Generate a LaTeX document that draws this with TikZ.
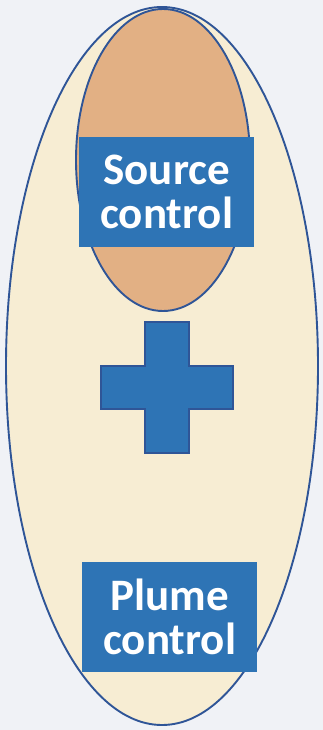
\documentclass[tikz,border=0pt]{standalone}
\usepackage{fontspec}
\setmainfont{Carlito}
\usetikzlibrary{shapes.geometric}
\definecolor{bgc}{HTML}{F0F2F6}
\definecolor{cream}{HTML}{F7EDD3}
\definecolor{orng}{HTML}{E2B084}
\definecolor{boxblue}{HTML}{2E74B5}
\definecolor{edge}{HTML}{2F5597}
\tikzset{
  outline/.style={draw=edge, line width=1.9pt},
  labelbox/.style={fill=boxblue, text=white, font=\bfseries\fontsize{45}{44}\selectfont, align=center, inner sep=0pt, anchor=north west},
}
\begin{document}
\begin{tikzpicture}[x=1pt,y=-1pt]
\fill[bgc] (0,0) rectangle (323,730);
\useasboundingbox (0,0) rectangle (323,730);
\draw[outline, fill=cream] (162,366) ellipse [x radius=156, y radius=359];
\draw[outline, fill=orng] (163,160) ellipse [x radius=87, y radius=151];
\node[labelbox, minimum width=175pt, minimum height=110pt] (src) at (79,137) {Source\\control};
\draw[outline, line width=1.6pt, fill=boxblue] (145,322) -- (189,322) -- (189,366) -- (233,366) -- (233,409) -- (189,409) -- (189,453) -- (145,453) -- (145,409) -- (101,409) -- (101,366) -- (145,366) -- cycle;
\node[labelbox, minimum width=175pt, minimum height=110pt] (plume) at (82,562) {Plume\\control};
\end{tikzpicture}
\end{document}
